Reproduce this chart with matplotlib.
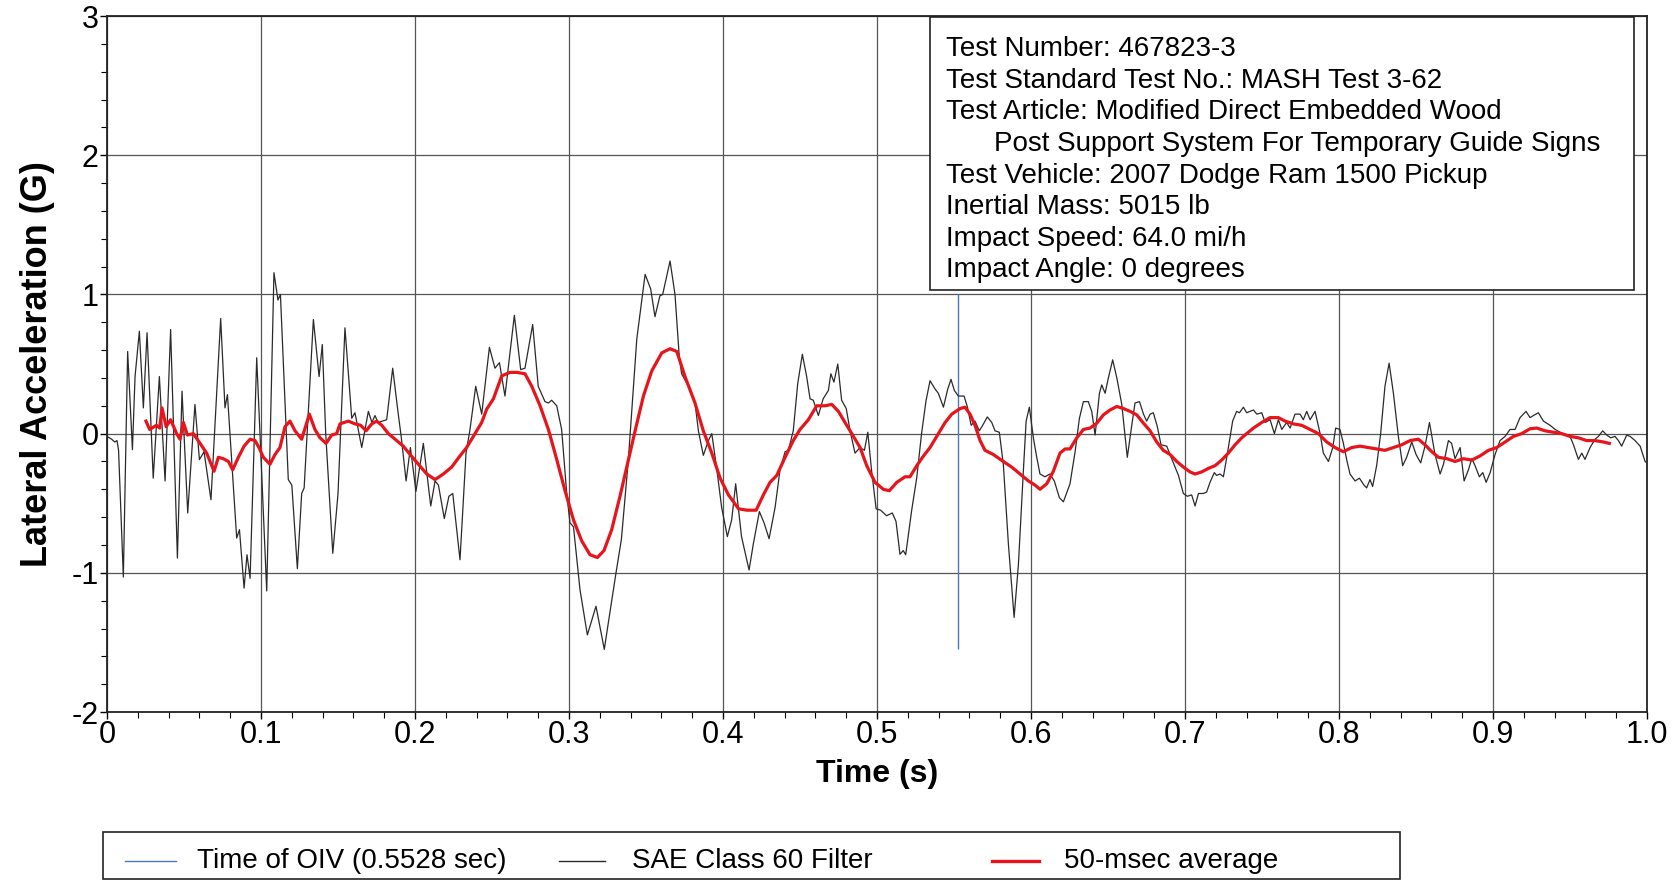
import matplotlib
matplotlib.use("Agg")
import matplotlib.pyplot as plt
from matplotlib.lines import Line2D
from matplotlib.patches import Rectangle
from matplotlib.ticker import MultipleLocator

plt.rcParams["font.family"] = ["Liberation Sans", "DejaVu Sans"]

# SAE Class 60 filtered lateral acceleration
sae_t = [0.000, 0.003, 0.005, 0.0065, 0.0075, 0.0106, 0.0134, 0.0165, 0.0182, 0.0210,
         0.0236, 0.0260, 0.0300, 0.0340, 0.0377, 0.0413, 0.0457, 0.0487, 0.0524, 0.0571,
         0.0600, 0.0630, 0.0675, 0.0738, 0.0766, 0.0782, 0.0842, 0.0860, 0.0890, 0.0909,
         0.0929, 0.0972, 0.1037, 0.1084, 0.1110, 0.1126, 0.1177, 0.1200, 0.1236, 0.1264,
         0.1280, 0.1340, 0.1377, 0.1398, 0.1420, 0.1466, 0.1500, 0.1545, 0.1589, 0.1610,
         0.1654, 0.1697, 0.1720, 0.1740, 0.1760, 0.1816, 0.1855, 0.1890, 0.1910, 0.1942,
         0.1970, 0.2006, 0.2054, 0.2102, 0.2130, 0.2152, 0.2190, 0.2220, 0.2245, 0.2292,
         0.2331, 0.2357, 0.2394, 0.2433, 0.2483, 0.2519, 0.2548, 0.2584, 0.2645, 0.2686,
         0.2714, 0.2764, 0.2800, 0.2844, 0.2866, 0.2887, 0.2920, 0.2952, 0.2985, 0.3006,
         0.3029, 0.3071, 0.3119, 0.3175, 0.3229, 0.3255, 0.3305, 0.3340, 0.3385, 0.3440,
         0.3494, 0.3530, 0.3558, 0.3590, 0.3608, 0.3656, 0.3688, 0.3716, 0.3731, 0.3775,
         0.3818, 0.3840, 0.3872, 0.3905, 0.3927, 0.3960, 0.3991, 0.4028, 0.4056, 0.4082,
         0.4120, 0.4169, 0.4197, 0.4236, 0.4266, 0.4299, 0.4338, 0.4370, 0.4403, 0.4424,
         0.4456, 0.4485, 0.4515, 0.4543, 0.4565, 0.4586, 0.4619, 0.4650, 0.4684, 0.4700,
         0.4720, 0.4745, 0.4770, 0.4800, 0.4825, 0.4857, 0.4890, 0.4918, 0.4940, 0.4965,
         0.4994, 0.5023, 0.5062, 0.5099, 0.5123, 0.5149, 0.5170, 0.5186, 0.5225, 0.5258,
         0.5289, 0.5318, 0.5344, 0.5377, 0.5398, 0.5431, 0.5459, 0.5480, 0.5502, 0.5528,
         0.5565, 0.5587, 0.5611, 0.5636, 0.5664, 0.5686, 0.5716, 0.5745, 0.5766, 0.5794,
         0.5820, 0.5853, 0.5890, 0.5918, 0.5950, 0.5968, 0.5989, 0.6015, 0.6037, 0.6058,
         0.6090, 0.6123, 0.6151, 0.6184, 0.6210, 0.6253, 0.6286, 0.6314, 0.6340, 0.6372,
         0.6394, 0.6416, 0.6444, 0.6459, 0.6481, 0.6502, 0.6530, 0.6557, 0.6589, 0.6625,
         0.6654, 0.6675, 0.6704, 0.6730, 0.6751, 0.6773, 0.6794, 0.6820, 0.6844, 0.6881,
         0.6913, 0.6957, 0.6989, 0.7015, 0.7043, 0.7065, 0.7087, 0.7119, 0.7140, 0.7162,
         0.7190, 0.7205, 0.7227, 0.7249, 0.7277, 0.7309, 0.7335, 0.7353, 0.7379, 0.7400,
         0.7422, 0.7444, 0.7466, 0.7498, 0.7520, 0.7552, 0.7580, 0.7606, 0.7628, 0.7660,
         0.7682, 0.7714, 0.7747, 0.7768, 0.7790, 0.7812, 0.7844, 0.7877, 0.7898, 0.7931,
         0.7959, 0.7978, 0.8006, 0.8028, 0.8050, 0.8071, 0.8104, 0.8132, 0.8162, 0.8179,
         0.8201, 0.8218, 0.8244, 0.8270, 0.8298, 0.8325, 0.8353, 0.8385, 0.8413, 0.8439,
         0.8472, 0.8500, 0.8530, 0.8558, 0.8587, 0.8623, 0.8656, 0.8678, 0.8710, 0.8731,
         0.8753, 0.8786, 0.8812, 0.8840, 0.8862, 0.8883, 0.8911, 0.8933, 0.8955, 0.8981,
         0.9013, 0.9045, 0.9078, 0.9110, 0.9143, 0.9175, 0.9214, 0.9240, 0.9262, 0.9294,
         0.9327, 0.9370, 0.9403, 0.9435, 0.9468, 0.9496, 0.9522, 0.9554, 0.9576, 0.9597,
         0.9630, 0.9662, 0.9684, 0.9712, 0.9738, 0.9764, 0.9792, 0.9814, 0.9835, 0.9868,
         0.9890, 0.9922, 0.9955, 0.9987, 1.0000]
sae_g = [-0.02, -0.04, -0.06, -0.05, -0.12, -1.03, 0.59, -0.115, 0.41, 0.736,
         0.185, 0.725, -0.32, 0.41, -0.34, 0.748, -0.894, 0.305, -0.57, 0.21,
         -0.187, -0.13, -0.475, 0.827, 0.185, 0.28, -0.75, -0.69, -1.11, -0.87,
         -1.04, 0.545, -1.13, 1.156, 0.96, 1.0, -0.33, -0.37, -0.97, -0.43,
         -0.39, 0.82, 0.41, 0.64, 0.0, -0.86, -0.43, 0.76, 0.11, 0.15,
         -0.10, 0.16, 0.08, 0.13, 0.08, 0.10, 0.47, 0.15, -0.02, -0.34,
         -0.10, -0.415, -0.07, -0.52, -0.34, -0.37, -0.61, -0.45, -0.43, -0.906,
         -0.14, 0.03, 0.34, 0.14, 0.62, 0.47, 0.51, 0.27, 0.85, 0.46,
         0.47, 0.784, 0.34, 0.23, 0.22, 0.24, 0.20, 0.03, -0.43, -0.64,
         -0.67, -1.12, -1.446, -1.24, -1.55, -1.36, -1.0, -0.76, -0.19, 0.68,
         1.144, 1.04, 0.84, 0.99, 1.0, 1.24, 1.0, 0.55, 0.43, 0.34,
         0.22, 0.02, -0.156, -0.05, 0.0, -0.26, -0.53, -0.74, -0.62, -0.36,
         -0.74, -0.98, -0.79, -0.56, -0.64, -0.755, -0.53, -0.26, -0.13, -0.12,
         0.02, 0.36, 0.57, 0.41, 0.25, 0.24, 0.13, 0.25, 0.31, 0.43,
         0.37, 0.50, 0.24, 0.18, 0.02, -0.14, -0.10, -0.12, 0.01, -0.27,
         -0.54, -0.55, -0.59, -0.57, -0.63, -0.867, -0.84, -0.87, -0.55, -0.315,
         0.0, 0.236, 0.38, 0.32, 0.29, 0.19, 0.32, 0.39, 0.31, 0.27,
         0.27, 0.19, 0.06, 0.09, 0.02, 0.06, 0.12, 0.08, 0.02, 0.01,
         -0.22, -0.795, -1.32, -0.94, -0.27, 0.09, 0.19, -0.03, -0.17, -0.29,
         -0.31, -0.29, -0.34, -0.46, -0.49, -0.36, -0.13, 0.11, 0.23, 0.23,
         0.16, -0.01, 0.29, 0.35, 0.29, 0.40, 0.53, 0.40, 0.21, -0.17,
         0.06, 0.22, 0.23, 0.14, 0.09, 0.14, 0.15, 0.05, -0.08, -0.09,
         -0.18, -0.30, -0.43, -0.45, -0.44, -0.52, -0.43, -0.43, -0.42, -0.35,
         -0.28, -0.30, -0.29, -0.31, -0.13, 0.09, 0.16, 0.15, 0.19, 0.15,
         0.16, 0.17, 0.14, 0.15, 0.08, 0.10, 0.0, 0.10, 0.03, 0.08,
         0.04, 0.14, 0.14, 0.10, 0.16, 0.10, 0.16, 0.0, -0.14, -0.20,
         -0.10, 0.04, 0.03, -0.07, -0.19, -0.29, -0.34, -0.32, -0.37, -0.39,
         -0.33, -0.38, -0.23, 0.0, 0.34, 0.506, 0.29, -0.02, -0.23, -0.17,
         -0.06, -0.15, -0.21, -0.09, 0.08, -0.15, -0.29, -0.22, -0.05, -0.07,
         -0.18, -0.10, -0.34, -0.26, -0.18, -0.23, -0.31, -0.28, -0.35, -0.28,
         -0.15, -0.05, -0.02, 0.03, 0.03, 0.115, 0.16, 0.115, 0.13, 0.15,
         0.09, 0.06, 0.03, 0.01, -0.01, -0.01, -0.08, -0.185, -0.14, -0.185,
         -0.10, -0.04, -0.02, 0.02, -0.01, -0.03, -0.02, -0.05, -0.09, -0.01,
         -0.02, -0.05, -0.09, -0.20, -0.21]

# 50-msec moving average
avg_t = [0.0253, 0.0277, 0.0321, 0.0342, 0.0357, 0.0384, 0.0413, 0.0452, 0.0474, 0.0496,
         0.0522, 0.0561, 0.0604, 0.0647, 0.0695, 0.0723, 0.0755, 0.0788, 0.0816, 0.0853,
         0.0890, 0.0929, 0.0961, 0.0987, 0.1015, 0.1058, 0.1091, 0.1123, 0.1156, 0.1188,
         0.1221, 0.1264, 0.1314, 0.1350, 0.1383, 0.1422, 0.1459, 0.1491, 0.1513, 0.1567,
         0.1610, 0.1647, 0.1682, 0.1719, 0.1751, 0.1784, 0.1827, 0.1870, 0.1924, 0.1968,
         0.2022, 0.2076, 0.2130, 0.2184, 0.2238, 0.2292, 0.2335, 0.2389, 0.2433, 0.2465,
         0.2509, 0.2563, 0.2617, 0.2660, 0.2714, 0.2758, 0.2812, 0.2866, 0.2920, 0.2974,
         0.3029, 0.3082, 0.3136, 0.3184, 0.3227, 0.3277, 0.3331, 0.3385, 0.3429, 0.3483,
         0.3537, 0.3602, 0.3656, 0.3700, 0.3753, 0.3818, 0.3872, 0.3927, 0.3981, 0.4035,
         0.4101, 0.4154, 0.4215, 0.4262, 0.4305, 0.4349, 0.4403, 0.4456, 0.4500, 0.4554,
         0.4608, 0.4662, 0.4706, 0.4749, 0.4792, 0.4836, 0.4890, 0.4933, 0.4987, 0.5041,
         0.5080, 0.5128, 0.5182, 0.5214, 0.5258, 0.5302, 0.5344, 0.5398, 0.5442, 0.5485,
         0.5539, 0.5571, 0.5604, 0.5636, 0.5669, 0.5701, 0.5755, 0.5820, 0.5874, 0.5928,
         0.5983, 0.6026, 0.6058, 0.6102, 0.6145, 0.6188, 0.6221, 0.6253, 0.6297, 0.6340,
         0.6383, 0.6427, 0.6470, 0.6513, 0.6557, 0.6600, 0.6643, 0.6686, 0.6730, 0.6773,
         0.6816, 0.6859, 0.6903, 0.6946, 0.6989, 0.7032, 0.7065, 0.7108, 0.7151, 0.7195,
         0.7238, 0.7281, 0.7325, 0.7368, 0.7400, 0.7444, 0.7498, 0.7552, 0.7606, 0.7649,
         0.7703, 0.7757, 0.7812, 0.7866, 0.7920, 0.7974, 0.8028, 0.8082, 0.8136, 0.8190,
         0.8244, 0.8298, 0.8353, 0.8407, 0.8461, 0.8515, 0.8558, 0.8602, 0.8645, 0.8700,
         0.8753, 0.8808, 0.8862, 0.8916, 0.8970, 0.9024, 0.9078, 0.9132, 0.9186, 0.9240,
         0.9283, 0.9338, 0.9392, 0.9446, 0.9500, 0.9554, 0.9608, 0.9662, 0.9716, 0.9755]
avg_g = [0.09, 0.03, 0.06, 0.04, 0.185, 0.05, 0.10, 0.0, -0.04, 0.08,
         -0.01, 0.0, -0.07, -0.14, -0.27, -0.17, -0.18, -0.20, -0.26, -0.17,
         -0.09, -0.04, -0.05, -0.10, -0.17, -0.22, -0.15, -0.10, 0.05, 0.09,
         0.02, -0.04, 0.14, 0.03, -0.03, -0.07, -0.01, 0.0, 0.07, 0.09,
         0.07, 0.06, 0.02, 0.07, 0.09, 0.06, 0.0, -0.04, -0.09, -0.15,
         -0.22, -0.29, -0.33, -0.29, -0.24, -0.16, -0.10, 0.0, 0.08, 0.175,
         0.25, 0.415, 0.44, 0.44, 0.43, 0.34, 0.20, 0.03, -0.185, -0.41,
         -0.62, -0.77, -0.87, -0.89, -0.84, -0.69, -0.45, -0.19, 0.02, 0.27,
         0.45, 0.58, 0.61, 0.59, 0.41, 0.22, 0.02, -0.14, -0.32, -0.44,
         -0.54, -0.55, -0.55, -0.44, -0.35, -0.30, -0.17, -0.05, 0.03, 0.10,
         0.20, 0.20, 0.21, 0.16, 0.08, 0.0, -0.10, -0.23, -0.35, -0.40,
         -0.41, -0.35, -0.31, -0.31, -0.23, -0.16, -0.10, 0.0, 0.08, 0.14,
         0.18, 0.19, 0.14, 0.06, -0.05, -0.12, -0.15, -0.20, -0.24, -0.29,
         -0.34, -0.37, -0.40, -0.36, -0.27, -0.14, -0.11, -0.11, -0.03, 0.03,
         0.04, 0.075, 0.135, 0.17, 0.195, 0.18, 0.16, 0.135, 0.075, 0.02,
         -0.06, -0.12, -0.15, -0.20, -0.24, -0.275, -0.29, -0.275, -0.25, -0.23,
         -0.19, -0.14, -0.08, -0.03, 0.0, 0.04, 0.08, 0.115, 0.115, 0.09,
         0.07, 0.06, 0.03, 0.0, -0.06, -0.10, -0.13, -0.10, -0.09, -0.10,
         -0.11, -0.12, -0.10, -0.08, -0.05, -0.04, -0.08, -0.13, -0.17, -0.18,
         -0.20, -0.18, -0.19, -0.16, -0.12, -0.10, -0.06, -0.02, 0.0, 0.035,
         0.04, 0.02, 0.01, 0.0, -0.02, -0.03, -0.05, -0.05, -0.06, -0.07]

oiv_time = 0.5528
oiv_span = (-1.55, 1.0)

info_lines = [
    "Test Number: 467823-3",
    "Test Standard Test No.: MASH Test 3-62",
    "Test Article: Modified Direct Embedded Wood",
    "Post Support System For Temporary Guide Signs",
    "Test Vehicle: 2007 Dodge Ram 1500 Pickup",
    "Inertial Mass: 5015 lb",
    "Impact Speed: 64.0 mi/h",
    "Impact Angle: 0 degrees",
]
info_indent = [0, 0, 0, 1, 0, 0, 0, 0]

legend_labels = ["Time of OIV (0.5528 sec)", "SAE Class 60 Filter", "50-msec average"]

C_OIV = "#4f78c4"
C_SAE = "#2a2a2a"
C_AVG = "#e8141b"
GRID = "#555555"

fig = plt.figure(figsize=(16.8, 8.81), dpi=100)
ax = fig.add_axes([0.0637, 0.1918, 0.9167, 0.7900])

ax.plot(sae_t, sae_g, color=C_SAE, lw=0.9, zorder=3)
ax.plot(avg_t, avg_g, color=C_AVG, lw=2.3, zorder=4)
ax.vlines(oiv_time, *oiv_span, color=C_OIV, lw=1.0, zorder=2)

ax.set_xlim(0, 1.0)
ax.set_ylim(-2, 3)
ax.xaxis.set_minor_locator(MultipleLocator(0.02))
ax.yaxis.set_major_locator(MultipleLocator(1))
ax.yaxis.set_minor_locator(MultipleLocator(0.2))
ax.set_xticks([i / 10 for i in range(11)])
ax.set_xticklabels(["0"] + [f"{i / 10:.1f}" for i in range(1, 11)])
ax.set_yticklabels([str(int(v)) for v in ax.get_yticks()])
ax.grid(True, which="major", color=GRID, lw=0.9)
ax.tick_params(which="major", direction="out", length=5, width=1, labelsize=22, pad=1)
ax.tick_params(which="minor", direction="out", length=4, width=0.8)
for s in ax.spines.values():
    s.set_color("#222222")
    s.set_linewidth(1.3)

ax.set_xlabel("Time (s)", fontsize=23, fontweight="bold", labelpad=6)
ax.set_ylabel("Lateral Acceleration (G)", fontsize=26, fontweight="bold", labelpad=12)

# test info box
ax.add_patch(Rectangle((0.5344, 1.03), 0.457, 1.965, facecolor="white",
                       edgecolor="#222222", lw=1.2, zorder=6))
y0, dy = 2.71, 0.2266
for i, (line, ind) in enumerate(zip(info_lines, info_indent)):
    ax.text(0.545 + 0.031 * ind, y0 - i * dy, line, fontsize=20,
            va="baseline", ha="left", zorder=7)

# legend strip at the bottom
fig.patches.append(Rectangle((103 / 1680, 0.0023), (1400 - 103) / 1680, 0.0533,
                             transform=fig.transFigure, facecolor="white",
                             edgecolor="#222222", lw=1.2))
ly = 0.0227
handle_x = [(125, 176), (559, 605), (992, 1039)]
text_x = [197, 632, 1064]
for (hx0, hx1), tx, lab, col, lw in zip(handle_x, text_x, legend_labels,
                                         [C_OIV, C_SAE, C_AVG], [1.0, 1.0, 2.4]):
    fig.add_artist(Line2D([hx0 / 1680, hx1 / 1680], [ly, ly], color=col, lw=lw,
                          transform=fig.transFigure))
    fig.text(tx / 1680, ly, lab, fontsize=20, va="center", ha="left")

fig.savefig("out.png", dpi=100)
